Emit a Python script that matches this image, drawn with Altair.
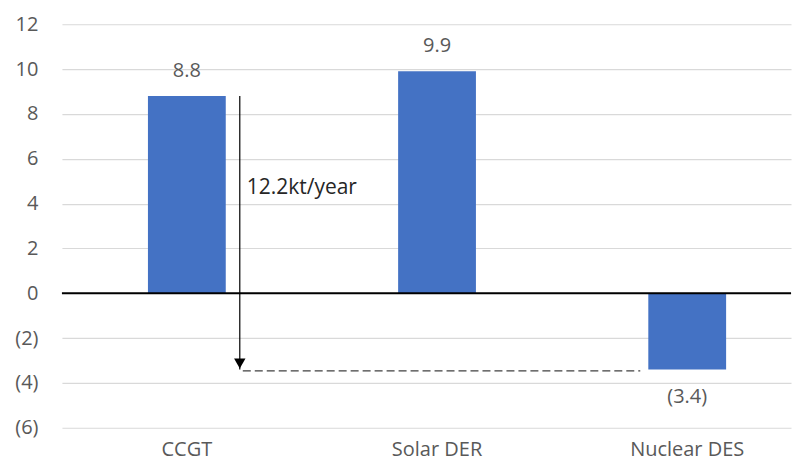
import altair as alt
import pandas as pd

categories = ["CCGT", "Solar DER", "Nuclear DES"]
values = [8.8, 9.9, -3.4]
value_labels = ["8.8", "9.9", "(3.4)"]
y_ticks = [-6, -4, -2, 0, 2, 4, 6, 8, 10, 12]
annotation_text = "12.2kt/year"
arrow_top = 8.8
arrow_bottom = -3.4
annotation_y = 4.7

FONT = "Open Sans"
LABEL_COLOR = "#595959"
FS = 20

df = pd.DataFrame({"cat": categories, "value": values, "label": value_labels})
df_pos = df[df["value"] >= 0]
df_neg = df[df["value"] < 0]

xscale = alt.Scale(domain=categories, paddingInner=0.689, paddingOuter=0.3016, align=0.57)
yscale = alt.Scale(domain=[-6, 12], nice=False, zero=False)

x_axis = alt.Axis(title=None, labelAngle=0, ticks=False, domain=False, grid=False,
                  labelFontSize=FS, labelColor=LABEL_COLOR, labelFont=FONT, labelPadding=12)
y_axis = alt.Axis(title=None, values=y_ticks, ticks=False, domain=False,
                  gridColor="#d9d9d9", gridWidth=1.2,
                  labelFontSize=FS, labelColor=LABEL_COLOR, labelFont=FONT, labelPadding=24,
                  labelExpr="datum.value < 0 ? '(' + format(-datum.value, 'd') + ')' : format(datum.value, 'd') + '\u2008'")

base = alt.Chart(df)

bars = base.mark_bar(color="#4472C4").encode(
    x=alt.X("cat:N", scale=xscale, sort=categories, axis=x_axis),
    y=alt.Y("value:Q", scale=yscale, axis=y_axis),
)

zero = alt.Chart(pd.DataFrame({"y": [0]})).mark_rule(color="black", strokeWidth=2).encode(
    y=alt.Y("y:Q", scale=yscale)
)

txt_pos = alt.Chart(df_pos).mark_text(font=FONT, fontSize=FS, color=LABEL_COLOR, dy=-25).encode(
    x=alt.X("cat:N", scale=xscale, sort=categories),
    y=alt.Y("value:Q", scale=yscale),
    text="label:N",
)
txt_neg = alt.Chart(df_neg).mark_text(font=FONT, fontSize=FS, color=LABEL_COLOR, dy=28).encode(
    x=alt.X("cat:N", scale=xscale, sort=categories),
    y=alt.Y("value:Q", scale=yscale),
    text="label:N",
)

df_arrow = pd.DataFrame({"cat": [categories[0]], "cat2": [categories[2]],
                         "y1": [arrow_top], "y2": [arrow_bottom],
                         "ty": [annotation_y], "t": [annotation_text]})

arrow_line = alt.Chart(df_arrow).mark_rule(color="black", strokeWidth=1.2, xOffset=53).encode(
    x=alt.X("cat:N", scale=xscale, sort=categories),
    y=alt.Y("y1:Q", scale=yscale),
    y2="y2:Q",
)
arrow_head = alt.Chart(df_arrow).mark_point(shape="triangle-down", filled=True, color="black",
                                            size=130, opacity=1, xOffset=53, yOffset=-6).encode(
    x=alt.X("cat:N", scale=xscale, sort=categories),
    y=alt.Y("y2:Q", scale=yscale),
)
dashed = alt.Chart(df_arrow).mark_rule(color="#404040", strokeWidth=1.2, strokeDash=[8, 4],
                                       xOffset=56, x2Offset=-47, yOffset=1.5).encode(
    x=alt.X("cat:N", scale=xscale, sort=categories),
    x2="cat2:N",
    y=alt.Y("y2:Q", scale=yscale),
)
ann = alt.Chart(df_arrow).mark_text(font=FONT, fontSize=21, color="#262626", align="left",
                                    xOffset=60).encode(
    x=alt.X("cat:N", scale=xscale, sort=categories),
    y=alt.Y("ty:Q", scale=yscale),
    text="t:N",
)

chart = alt.layer(bars, zero, txt_pos, txt_neg, dashed, arrow_line, arrow_head, ann).properties(
    width=730, height=404,
    padding={"left": 6, "top": 6, "right": 0, "bottom": 5},
).configure_view(stroke=None)

chart.save("out.html", embed_options={"renderer": "svg", "actions": False})
